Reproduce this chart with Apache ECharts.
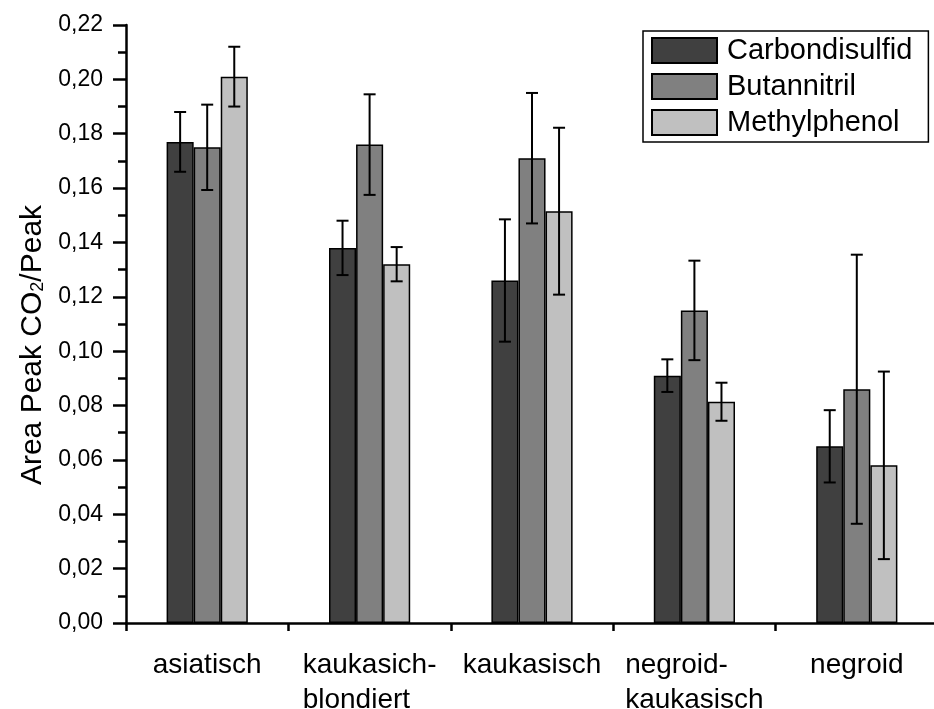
<!DOCTYPE html>
<html>
<head>
<meta charset="utf-8">
<script src="https://cdn.jsdelivr.net/npm/echarts@6/dist/echarts.min.js"></script>
<style>
  html, body { margin: 0; padding: 0; background: #fff; }
  #chart { width: 934px; height: 709px; }
</style>
</head>
<body>
<div id="chart"></div>
<script>
// Sample groups along the x axis
const categories = ['asiatisch', 'kaukasich-\nblondiert', 'kaukasisch', 'negroid-\nkaukasisch', 'negroid'];

// Mean peak area ratios and their error bars, one pair per compound
const carbondisulfid = [0.177, 0.138, 0.126, 0.091, 0.065];
const carbondisulfidErr = [0.011, 0.010, 0.0225, 0.006, 0.0133];
const butannitril = [0.175, 0.176, 0.171, 0.115, 0.086];
const butannitrilErr = [0.0157, 0.0185, 0.024, 0.0183, 0.0495];
const methylphenol = [0.201, 0.132, 0.1515, 0.0814, 0.058];
const methylphenolErr = [0.011, 0.0063, 0.0307, 0.007, 0.0345];

const seriesNames = ['Carbondisulfid', 'Butannitril', 'Methylphenol'];
const seriesColors = ['#404040', '#808080', '#c0c0c0'];
const values = [carbondisulfid, butannitril, methylphenol];
const errors = [carbondisulfidErr, butannitrilErr, methylphenolErr];

const FONT = '"Liberation Sans", Arial, sans-serif';
const CATEGORY_GAP = 0.5;   // fraction of a band left empty around each group

const chart = echarts.init(document.getElementById('chart'));

const barSeries = seriesNames.map((name, i) => ({
  name: name,
  type: 'bar',
  data: values[i],
  barGap: '0%',
  barCategoryGap: (CATEGORY_GAP * 100) + '%',
  itemStyle: { color: seriesColors[i], borderColor: '#000', borderWidth: 1.5 },
  z: 2
}));

// Error bars: vertical line with caps, placed over the matching bar of each group
const errorSeries = seriesNames.map((name, i) => ({
  name: name + ' error',
  type: 'custom',
  z: 5,
  data: values[i].map((v, k) => [k, v, errors[i][k]]),
  renderItem: function (params, api) {
    const cat = api.value(0);
    const v = api.value(1);
    const e = api.value(2);
    const band = api.size([1, 0])[0];
    const barW = band * (1 - CATEGORY_GAP) / seriesNames.length;
    const x = api.coord([cat, v])[0] + (i - (seriesNames.length - 1) / 2) * barW;
    const yHi = api.coord([cat, v + e])[1];
    const yLo = api.coord([cat, v - e])[1];
    const cap = 6;
    const style = { stroke: '#000', lineWidth: 2 };
    return {
      type: 'group',
      children: [
        { type: 'line', shape: { x1: x, y1: yHi, x2: x, y2: yLo }, style: style },
        { type: 'line', shape: { x1: x - cap, y1: yHi, x2: x + cap, y2: yHi }, style: style },
        { type: 'line', shape: { x1: x - cap, y1: yLo, x2: x + cap, y2: yLo }, style: style }
      ]
    };
  }
}));

chart.setOption({
  backgroundColor: '#fff',
  animation: false,
  textStyle: { fontFamily: FONT, color: '#000' },
  grid: { left: 126, top: 25, width: 812, height: 598, outerBoundsMode: 'none', containLabel: false },
  legend: {
    data: seriesNames,
    orient: 'vertical',
    left: 643,
    top: 31,
    itemWidth: 65,
    itemHeight: 25,
    itemGap: 7,
    icon: 'rect',
    padding: [5, 16, 5, 8],
    borderColor: '#000',
    borderWidth: 1.5,
    textStyle: { fontFamily: FONT, fontSize: 29, color: '#000', padding: [0, 0, 0, 5] }
  },
  xAxis: [
    {
      type: 'category',
      data: categories,
      axisLine: { lineStyle: { color: '#000', width: 2.5 } },
      axisTick: { alignWithLabel: true, length: 14, lineStyle: { color: '#000', width: 2.5 } },
      axisLabel: {
        interval: 0,
        margin: 25,
        color: '#000',
        fontFamily: FONT,
        fontSize: 28,
        lineHeight: 35,
        formatter: function (val) {
          return val.split('\n').map(l => '{l|' + l + '}').join('\n');
        },
        rich: { l: { align: 'left', fontSize: 28, lineHeight: 35, fontFamily: FONT, color: '#000' } }
      }
    },
    {
      // boundary ticks between groups
      type: 'category',
      data: categories,
      position: 'bottom',
      axisLine: { show: false },
      axisTick: { show: true, length: 8, lineStyle: { color: '#000', width: 2.5 } },
      axisLabel: { show: false }
    }
  ],
  yAxis: {
    type: 'value',
    min: 0,
    max: 0.22,
    interval: 0.02,
    splitLine: { show: false },
    axisLine: { show: true, lineStyle: { color: '#000', width: 2.5 } },
    axisTick: { show: true, length: 13, lineStyle: { color: '#000', width: 2.5 } },
    minorTick: { show: true, splitNumber: 2, length: 8, lineStyle: { color: '#000', width: 2.5 } },
    axisLabel: {
      margin: 23,
      color: '#000',
      fontFamily: FONT,
      fontSize: 23,
      formatter: v => v.toFixed(2).replace('.', ',')
    },
    name: '{a|Area Peak CO}{s|2}{a|/Peak}',
    nameLocation: 'middle',
    nameGap: 78,
    nameTextStyle: {
      padding: [0, 42, 0, 0],
      rich: {
        a: { fontFamily: FONT, fontSize: 30, lineHeight: 30, color: '#000', verticalAlign: 'top' },
        s: { fontFamily: FONT, fontSize: 18, lineHeight: 18, color: '#000', verticalAlign: 'bottom', padding: [21, 0, 0, 0] }
      }
    }
  },
  series: barSeries.concat(errorSeries)
});
</script>
</body>
</html>
